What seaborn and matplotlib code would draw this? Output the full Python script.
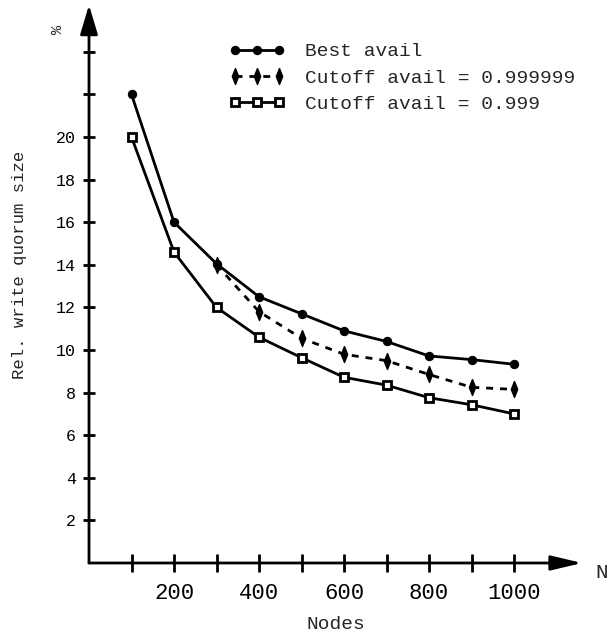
import numpy as np
import pandas as pd
import matplotlib
matplotlib.use('Agg')
import matplotlib.pyplot as plt
import seaborn as sns

# values
nodes = [100, 200, 300, 400, 500, 600, 700, 800, 900, 1000]
best_avail = [22.0, 16.0, 14.05, 12.5, 11.7, 10.9, 10.4, 9.72, 9.55, 9.33]
cutoff_nodes = [300, 400, 500, 600, 700, 800, 900, 1000]
cutoff_999999 = [14.0, 11.8, 10.55, 9.8, 9.5, 8.85, 8.25, 8.15]
cutoff_999 = [20.0, 14.6, 12.0, 10.6, 9.64, 8.72, 8.35, 7.76, 7.43, 7.0]

x_ticks = [100, 200, 300, 400, 500, 600, 700, 800, 900, 1000]
x_labels = ['', '200', '', '400', '', '600', '', '800', '', '1000']
y_ticks = [2, 4, 6, 8, 10, 12, 14, 16, 18, 20, 22, 24]
y_labels = ['2', '4', '6', '8', '10', '12', '14', '16', '18', '20', '', '']

sns.set_style('white')
plt.rcParams['font.family'] = ['Liberation Mono', 'DejaVu Sans Mono']

W, H = 609, 633
fig = plt.figure(figsize=(W / 100, H / 100), dpi=100)
# axes box in pixels: y axis at x=89, x axis at y=563
ax = fig.add_axes([89 / W, (H - 563) / H, (582 - 89) / W, (563 - 5) / H])

# narrow diamond like the original
thin_diamond = [(0, 1), (0.4, 0), (0, -1), (-0.4, 0), (0, 1)]

sns.lineplot(x=nodes, y=best_avail, ax=ax, color='black', lw=2,
             marker='o', ms=6, mec='black', mfc='black', label='Best avail')
sns.lineplot(x=cutoff_nodes, y=cutoff_999999, ax=ax, color='black', lw=2,
             ls=(0, (2.5, 2.5)), marker=thin_diamond, ms=11.5, mew=1, mec='black', mfc='black',
             label='Cutoff avail = 0.999999')
sns.lineplot(x=nodes, y=cutoff_999, ax=ax, color='black', lw=2,
             marker='s', ms=5.5, mew=2, mec='black', mfc='white',
             label='Cutoff avail = 0.999')

ax.set_xlim(0, (582 - 89) / 0.425)
ax.set_ylim(0, (563 - 5) / 21.3)

for s in ax.spines.values():
    s.set_visible(False)

# axis lines with arrow heads
ax.annotate('', xy=(0, 1), xytext=(0, 0), xycoords='axes fraction',
            arrowprops=dict(arrowstyle='-|>,head_length=1.0,head_width=0.3',
                            mutation_scale=18, lw=2, color='black',
                            shrinkA=0, shrinkB=0))
ax.annotate('', xy=(1, 0), xytext=(0, 0), xycoords='axes fraction',
            arrowprops=dict(arrowstyle='-|>,head_length=1.05,head_width=0.25',
                            mutation_scale=18, lw=2, color='black',
                            shrinkA=0, shrinkB=0))

ax.set_xticks(x_ticks)
ax.set_xticklabels(x_labels, fontsize=16)
ax.set_yticks(y_ticks)
ax.set_yticklabels(y_labels, fontsize=12)
ax.tick_params(axis='x', direction='inout', length=13, width=2, pad=8,
               bottom=True, colors='black')
ax.tick_params(axis='y', direction='inout', length=9, width=2, pad=5,
               left=True, colors='black')
ax.grid(False)

ax.set_xlabel('Nodes', fontsize=14)
ax.xaxis.set_label_coords(0.5, -0.095)
ax.set_ylabel('Rel. write quorum size', fontsize=12.5)
ax.yaxis.set_label_coords(-0.125, 0.534)

fig.text(58 / W, 1 - 29 / H, '%', fontsize=11, rotation=90, ha='center', va='center')
fig.text(595 / W, 1 - 573 / H, 'N', fontsize=15, ha='left', va='center')

ax.legend(loc='upper left', bbox_to_anchor=((221 - 89) / 493, 1 - 30 / 558),
          frameon=False, numpoints=3, handlelength=2.9, handletextpad=1.0,
          fontsize=14, labelspacing=0.45, borderaxespad=0)

plt.savefig('out.png', dpi=100)
plt.close()
